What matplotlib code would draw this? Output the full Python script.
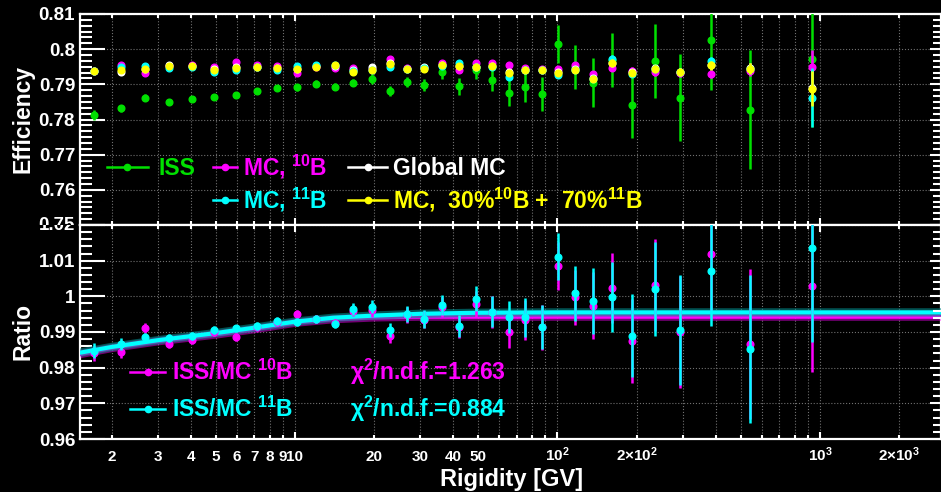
import matplotlib
matplotlib.use("Agg")
import matplotlib.pyplot as plt
from matplotlib.lines import Line2D
from matplotlib.ticker import FixedLocator, FixedFormatter, AutoMinorLocator, NullFormatter
from matplotlib.transforms import Bbox, TransformedBbox

plt.rcParams['font.family'] = ['Liberation Sans', 'DejaVu Sans']
plt.rcParams['font.weight'] = 'bold'
plt.rcParams['mathtext.fontset'] = 'custom'
plt.rcParams['mathtext.rm'] = 'Liberation Sans:bold'
plt.rcParams['mathtext.bf'] = 'Liberation Sans:bold'
plt.rcParams['mathtext.it'] = 'Liberation Sans:bold:italic'
plt.rcParams['mathtext.sf'] = 'Liberation Sans:bold'

# --- dados ---
rigidez = [1.72, 2.17, 2.68, 3.31, 4.04, 4.91, 5.94, 7.14, 8.51, 10.15,
           12.0, 14.2, 16.7, 19.7, 23.0, 26.8, 31.1, 36.3, 42.2, 48.8,
           56.4, 65.3, 75.4, 87.1, 100.7, 116.9, 136.5, 161.3, 192.8, 235,
           293, 383, 542, 929]

# eficiencia ISS
iss = [0.7814, 0.7832, 0.7862, 0.7851, 0.7857, 0.7864, 0.7871, 0.7880, 0.7889, 0.7892,
       0.7901, 0.7893, 0.7905, 0.7915, 0.7880, 0.7907, 0.7898, 0.7934, 0.7894, 0.7940,
       0.7913, 0.7875, 0.7891, 0.7873, 0.8016, 0.7950, 0.7905, 0.7969, 0.7840, 0.7966,
       0.7862, 0.8026, 0.7828, 0.7973]
iss_err = [0.0014, 0.0010, 0.0010, 0.0005, 0.0005, 0.0005, 0.0005, 0.0006, 0.0007, 0.0010,
           0.0010, 0.0010, 0.0010, 0.0013, 0.0014, 0.0015, 0.0017, 0.0019, 0.0024, 0.0025,
           0.0031, 0.0037, 0.0040, 0.0048, 0.0054, 0.0062, 0.0069, 0.0078, 0.0093, 0.0106,
           0.0123, 0.0143, 0.0169, 0.0195]

# MC 10B
mc10 = [0.7938, 0.7956, 0.7933, 0.7953, 0.7955, 0.7948, 0.7964, 0.7955, 0.7953, 0.7931,
        0.7950, 0.7946, 0.7946, 0.7944, 0.7971, 0.7946, 0.7947, 0.7961, 0.7942, 0.7961,
        0.7961, 0.7956, 0.7946, 0.7944, 0.7945, 0.7954, 0.7929, 0.7947, 0.7938, 0.7935,
        0.7932, 0.7929, 0.7938, 0.7948]
# MC 11B
mc11 = [0.7938, 0.7948, 0.7952, 0.7947, 0.7950, 0.7936, 0.7940, 0.7949, 0.7940, 0.7951,
        0.7954, 0.7955, 0.7938, 0.7940, 0.7950, 0.7945, 0.7946, 0.7953, 0.7961, 0.7948,
        0.7950, 0.7921, 0.7940, 0.7940, 0.7926, 0.7940, 0.7914, 0.7973, 0.7930, 0.7945,
        0.7935, 0.7967, 0.7944, 0.7862]
# Global MC
mc_global = [0.7937, 0.7935, 0.7945, 0.7956, 0.7952, 0.7943, 0.7948, 0.7950, 0.7946, 0.7945,
             0.7951, 0.7952, 0.7940, 0.7948, 0.7960, 0.7944, 0.7948, 0.7955, 0.7953, 0.7950,
             0.7953, 0.7935, 0.7942, 0.7942, 0.7935, 0.7944, 0.7918, 0.7962, 0.7934, 0.7946,
             0.7935, 0.7955, 0.7946, 0.7890]
# MC 30% 10B + 70% 11B
mc_mix = [0.7938, 0.7942, 0.7944, 0.7951, 0.7951, 0.7942, 0.7947, 0.7949, 0.7946, 0.7944,
          0.7950, 0.7954, 0.7935, 0.7942, 0.7959, 0.7944, 0.7945, 0.7954, 0.7953, 0.7950,
          0.7952, 0.7931, 0.7942, 0.7942, 0.7933, 0.7942, 0.7916, 0.7962, 0.7933, 0.7945,
          0.7935, 0.7954, 0.7945, 0.7888]
mc_err = [0.0003, 0.0003, 0.0003, 0.0003, 0.0003, 0.0003, 0.0003, 0.0003, 0.0003, 0.0003,
          0.0003, 0.0003, 0.0003, 0.0003, 0.0003, 0.0003, 0.0003, 0.0003, 0.0004, 0.0005,
          0.0005, 0.0005, 0.0006, 0.0006, 0.0008, 0.0008, 0.0008, 0.0009, 0.0010, 0.0010,
          0.0011, 0.0012, 0.0015, 0.0050]
mc11_err = [0.0003, 0.0003, 0.0003, 0.0003, 0.0003, 0.0003, 0.0003, 0.0003, 0.0003, 0.0003,
            0.0003, 0.0003, 0.0003, 0.0003, 0.0003, 0.0003, 0.0003, 0.0003, 0.0004, 0.0005,
            0.0005, 0.0005, 0.0006, 0.0006, 0.0008, 0.0008, 0.0008, 0.0009, 0.0010, 0.0010,
            0.0011, 0.0012, 0.0015, 0.0084]

# razao ISS/MC
razao10 = [0.9840, 0.9843, 0.9910, 0.9866, 0.9878, 0.9899, 0.9885, 0.9913, 0.9927, 0.9950,
           0.9937, 0.9925, 0.9960, 0.9962, 0.9889, 0.9948, 0.9935, 0.9969, 0.9915, 0.9979,
           0.9955, 0.9901, 0.9934, 0.9913, 1.0086, 0.9997, 0.9973, 1.0024, 0.9875, 1.0032,
           0.9900, 1.0118, 0.9866, 1.0029]
razao10_err = [0.0021, 0.0016, 0.0014, 0.0011, 0.0011, 0.0011, 0.0011, 0.0011, 0.0011, 0.0012,
               0.0012, 0.0012, 0.0016, 0.0019, 0.0019, 0.0022, 0.0025, 0.0028, 0.0031, 0.0036,
               0.0045, 0.0046, 0.0056, 0.0063, 0.0067, 0.0078, 0.0094, 0.0098, 0.0118, 0.0130,
               0.0156, 0.0156, 0.0210, 0.0242]
razao11 = [0.9847, 0.9866, 0.9885, 0.9882, 0.9889, 0.9906, 0.9910, 0.9917, 0.9931, 0.9929,
           0.9936, 0.9922, 0.9964, 0.9971, 0.9906, 0.9950, 0.9936, 0.9976, 0.9917, 0.9993,
           0.9957, 0.9943, 0.9941, 0.9915, 1.0111, 1.0008, 0.9987, 0.9999, 0.9890, 1.0021,
           0.9906, 1.0071, 0.9852, 1.0136]
razao11_err = [0.0021, 0.0016, 0.0012, 0.0011, 0.0011, 0.0011, 0.0011, 0.0011, 0.0011, 0.0011,
               0.0011, 0.0011, 0.0016, 0.0019, 0.0019, 0.0022, 0.0025, 0.0028, 0.0030, 0.0035,
               0.0044, 0.0045, 0.0055, 0.0062, 0.0066, 0.0077, 0.0093, 0.0098, 0.0116, 0.0132,
               0.0154, 0.0154, 0.0208, 0.0263]

# curvas de ajuste
ajuste_r = [1.517, 2, 3, 5, 7, 10, 14, 20, 30, 50, 100, 2891]
ajuste11 = [0.9842, 0.9858, 0.9877, 0.9897, 0.9912, 0.9929, 0.9940, 0.9946, 0.9951, 0.9954, 0.9955, 0.9955]
ajuste10 = [0.9838, 0.9855, 0.9874, 0.9893, 0.9908, 0.9926, 0.9936, 0.9941, 0.9943, 0.9943, 0.9943, 0.9943]

# ticks do eixo x
x_maior = [10, 100, 1000]
x_maior_rot = ["10", r"10$^{2}$", r"10$^{3}$"]
x_menor = [2, 3, 4, 5, 6, 7, 8, 9, 20, 30, 40, 50, 60, 70, 80, 90,
           200, 300, 400, 500, 600, 700, 800, 900, 2000]
x_menor_rot = ["2", "3", "4", "5", "6", "7", "8", "9", "20", "30", "40", "50", "", "", "", "",
               r"2$\times$10$^{2}$", "", "", "", "", "", "", "", r"2$\times$10$^{3}$"]

y1_ticks = [0.75, 0.76, 0.77, 0.78, 0.79, 0.80, 0.81]
y1_rot = ["", "0.76", "0.77", "0.78", "0.79", "0.8", "0.81"]
y2_ticks = [0.96, 0.97, 0.98, 0.99, 1.00, 1.01, 1.02]
y2_rot = ["0.96", "0.97", "0.98", "0.99", "1", "1.01", ""]

VERDE = '#00e000'
MAGENTA = '#ff00ff'
CIANO = '#00ffff'
AMARELO = '#ffff00'
BRANCO = 'white'

# ---- PLOTAGEM ----
W, H = 941, 492
fig = plt.figure(figsize=(W / 100, H / 100), dpi=100, facecolor='black')


def caixa(esq, topo, dir, base):
    return [esq / W, 1 - base / H, (dir - esq) / W, (base - topo) / H]


def px(x, y):
    return x / W, 1 - y / H


ax1 = fig.add_axes(caixa(80, 14, 941, 225))
ax2 = fig.add_axes(caixa(80, 225, 941, 439), sharex=ax1)

for ax in (ax1, ax2):
    ax.set_facecolor('black')
    ax.set_xscale('log')
    for s in ax.spines.values():
        s.set_color('white')
        s.set_linewidth(1.6)
    ax.grid(True, which='both', axis='x', linestyle=':', color='#707070', linewidth=0.8)
    ax.grid(True, which='major', axis='y', linestyle=':', color='#707070', linewidth=0.8)
    ax.set_axisbelow(True)

ax1.set_xlim(1.517, 2891)
ax1.xaxis.set_major_locator(FixedLocator(x_maior))
ax1.xaxis.set_minor_locator(FixedLocator(x_menor))
ax1.xaxis.set_major_formatter(FixedFormatter(x_maior_rot))
ax1.xaxis.set_minor_formatter(FixedFormatter(x_menor_rot))

ax1.set_ylim(0.75, 0.81)
ax1.yaxis.set_major_locator(FixedLocator(y1_ticks))
ax1.yaxis.set_major_formatter(FixedFormatter(y1_rot))
ax1.yaxis.set_minor_locator(AutoMinorLocator(6))
ax2.set_ylim(0.96, 1.02)
ax2.yaxis.set_major_locator(FixedLocator(y2_ticks))
ax2.yaxis.set_major_formatter(FixedFormatter(y2_rot))
ax2.yaxis.set_minor_locator(AutoMinorLocator(5))

for ax in (ax1, ax2):
    ax.tick_params(axis='x', which='major', direction='in', length=5, width=1.5,
                   top=True, bottom=True, colors='white', labelsize=11, pad=16)
    ax.tick_params(axis='x', which='minor', direction='in', length=3, width=1.5,
                   top=True, bottom=True, colors='white', labelsize=11, pad=16)
    ax.tick_params(axis='y', which='major', direction='in', length=18, width=1.5,
                   left=True, right=False, colors='white', labelsize=13.5, pad=3.5)
    ax.tick_params(axis='y', which='minor', direction='in', length=8.5, width=1.5,
                   left=True, right=False, colors='white')
ax1.tick_params(axis='x', which='both', labelbottom=False)
# rotulos do eixo x alinhados pela linha de base
plt.setp(ax2.get_xticklabels(which='both'), va='baseline')

# ticks curtos do lado direito
for ax in (ax1, ax2):
    axr = ax.twinx()
    axr.set_ylim(ax.get_ylim())
    axr.yaxis.set_major_locator(FixedLocator(ax.get_yticks()))
    axr.yaxis.set_minor_locator(AutoMinorLocator(6 if ax is ax1 else 5))
    axr.yaxis.set_major_formatter(NullFormatter())
    axr.tick_params(axis='y', which='major', direction='in', length=8, width=1.5, colors='white')
    axr.tick_params(axis='y', which='minor', direction='in', length=6, width=1.5, colors='white')
    for s in axr.spines.values():
        s.set_visible(False)

# painel de eficiencia
kw = dict(fmt='o', ms=4.8, elinewidth=1.8, capsize=0)
ax1.errorbar(rigidez, iss, yerr=iss_err, color=VERDE, zorder=3, **kw)
ax1.errorbar(rigidez, mc10, yerr=mc_err, color=MAGENTA, zorder=4, **kw)
ax1.errorbar(rigidez, mc_global, yerr=mc_err, color=BRANCO, zorder=5, **kw)
ax1.errorbar(rigidez, mc11, yerr=mc11_err, color=CIANO, zorder=6, **kw)
ax1.errorbar(rigidez, mc_mix, yerr=mc_err, color=AMARELO, zorder=7, **kw)

# painel de razao
ax2.plot(ajuste_r, ajuste10, color=MAGENTA, lw=6, alpha=0.45, zorder=3, solid_capstyle='butt')
ax2.plot(ajuste_r, ajuste10, color=MAGENTA, lw=3, zorder=3)
ax2.plot(ajuste_r, ajuste11, color='#008888', lw=6, alpha=0.6, zorder=4, solid_capstyle='butt')
ax2.plot(ajuste_r, ajuste11, color=CIANO, lw=3, zorder=4)
ax2.errorbar(rigidez, razao10, yerr=razao10_err, color=MAGENTA, zorder=5, **kw)
ax2.errorbar(rigidez, razao11, yerr=razao11_err, color=CIANO, zorder=6, **kw)

# rotulos cortados na juncao dos paineis
t1 = fig.text(*px(75, 225), "0.75", ha='right', va='center', color='white', fontsize=13.5)
t1.set_clip_box(TransformedBbox(Bbox([[0, 1 - 225 / H], [1, 1]]), fig.transFigure))
t2 = fig.text(*px(75, 225), "1.02", ha='right', va='center', color='white', fontsize=13.5)
t2.set_clip_box(TransformedBbox(Bbox([[0, 0], [1, 1 - 225 / H]]), fig.transFigure))

# legendas


def entrada(x0, x1, y, cor, texto, xt, yt):
    xs = [px(x0, y)[0], px(x1, y)[0]]
    ys = [px(x0, y)[1]] * 2
    fig.add_artist(Line2D(xs, ys, color=cor, lw=1.8, transform=fig.transFigure))
    fig.add_artist(Line2D([sum(xs) / 2], [ys[0]], color=cor, marker='o', ms=4.5,
                          transform=fig.transFigure))
    fig.text(*px(xt, yt), texto, color=cor, fontsize=16.5, ha='left', va='baseline')


entrada(107, 148, 167, VERDE, "ISS", 158, 175)
entrada(213, 237, 167, MAGENTA, r"MC, $^{10}$B", 243, 175)
entrada(348, 387, 167, BRANCO, "Global MC", 393, 175)
entrada(213, 237, 200, CIANO, r"MC, $^{11}$B", 243, 208)
entrada(348, 387, 200, AMARELO, r"MC,  30%$^{10}$B +  70%$^{11}$B", 393, 208)

entrada(130, 165, 372, MAGENTA, r"ISS/MC $^{10}$B", 172, 380)
entrada(130, 165, 409, CIANO, r"ISS/MC $^{11}$B", 172, 417)
fig.text(*px(350, 380), r"χ$^{2}$/n.d.f.=1.263", color=MAGENTA, fontsize=16.5, va='baseline')
fig.text(*px(350, 417), r"χ$^{2}$/n.d.f.=0.884", color=CIANO, fontsize=16.5, va='baseline')

# titulos dos eixos
fig.text(*px(23, 119), "Efficiency", rotation=90, ha='center', va='center',
         color='white', fontsize=16.5)
fig.text(*px(23, 332), "Ratio", rotation=90, ha='center', va='center',
         color='white', fontsize=16.5)
fig.text(*px(512, 486), "Rigidity [GV]", ha='center', va='baseline',
         color='white', fontsize=17)

fig.savefig("out.png", dpi=100, facecolor='black')
